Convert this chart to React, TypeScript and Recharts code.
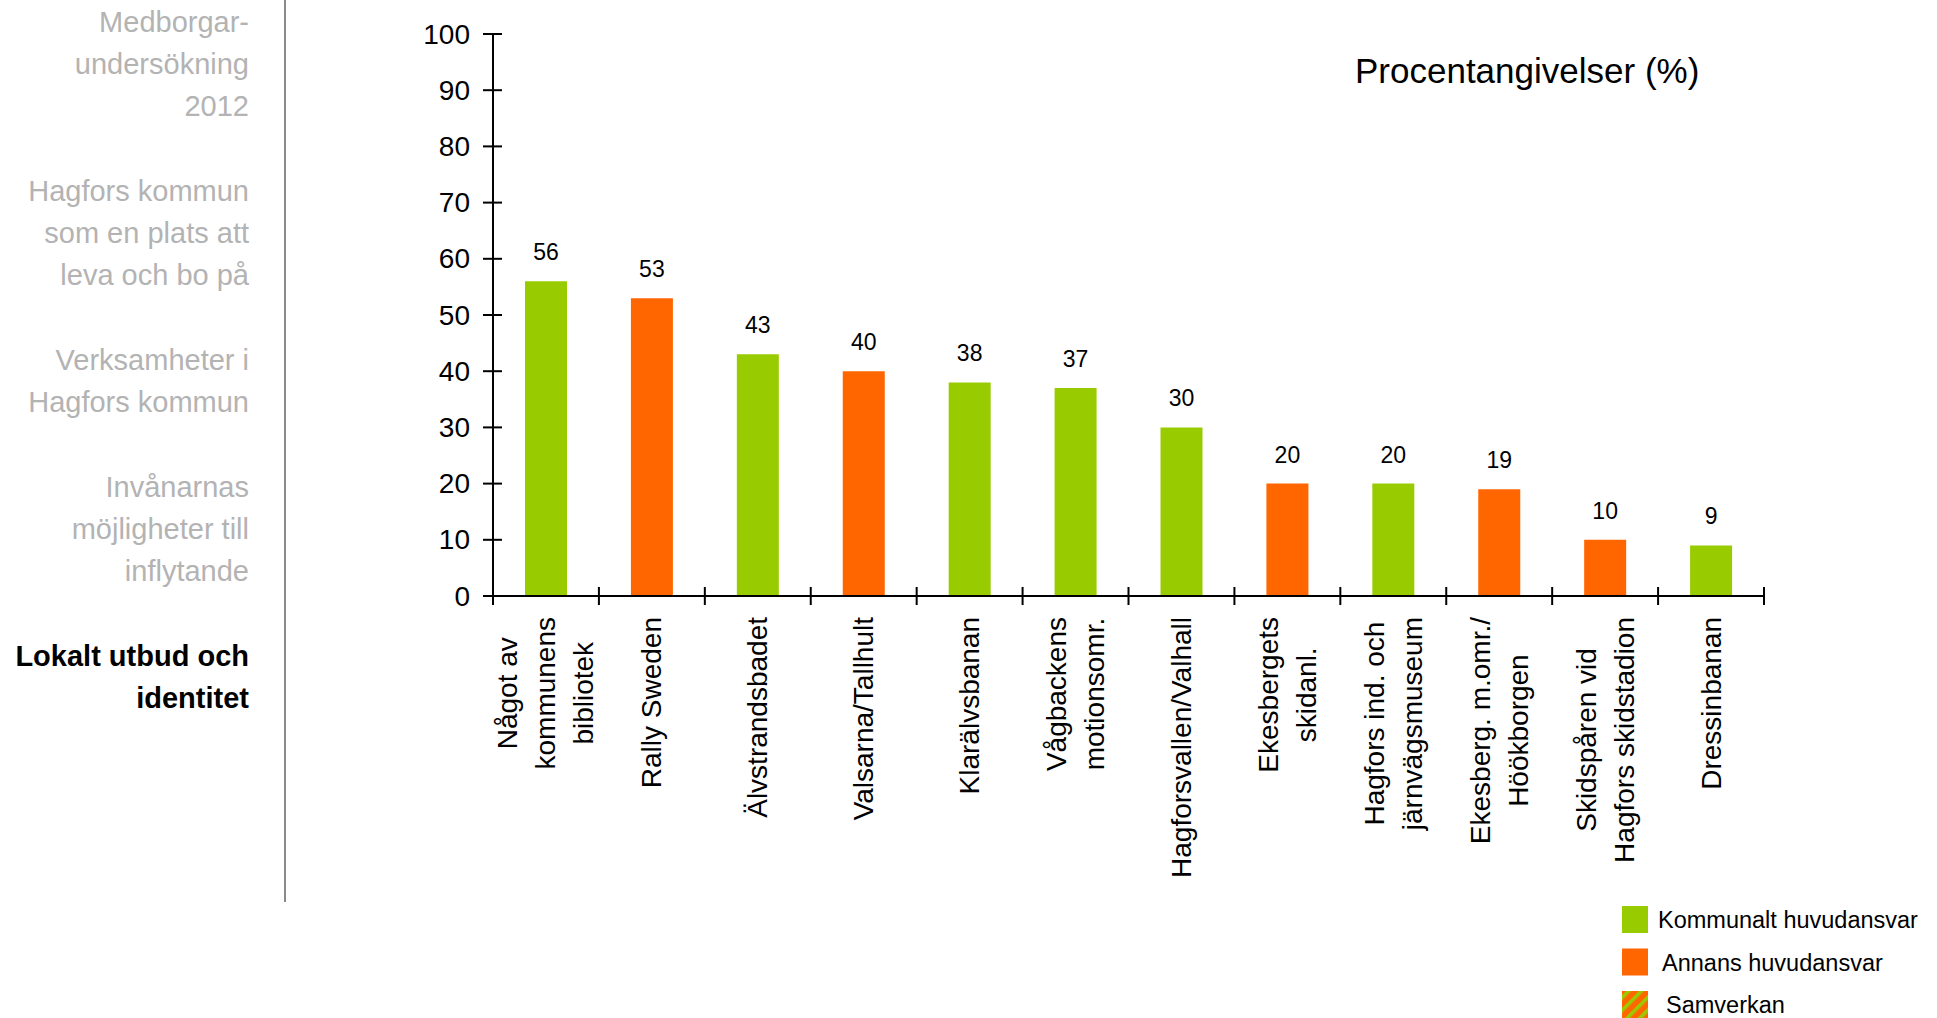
import { BarChart, Bar, XAxis, YAxis, Cell, LabelList } from "recharts"

// categories (line breaks as in the original axis labels)
const categories = [
  "Något av\nkommunens\nbibliotek",
  "Rally Sweden",
  "Älvstrandsbadet",
  "Valsarna/Tallhult",
  "Klarälvsbanan",
  "Vågbackens\nmotionsomr.",
  "Hagforsvallen/Valhall",
  "Ekesbergets\nskidanl.",
  "Hagfors ind. och\njärnvägsmuseum",
  "Ekesberg. m.omr./\nHöökborgen",
  "Skidspåren vid\nHagfors skidstadion",
  "Dressinbanan",
]
const percentages = [56, 53, 43, 40, 38, 37, 30, 20, 20, 19, 10, 9]
// who is responsible: "k" = kommunalt, "a" = annans
const owners = ["k", "a", "k", "a", "k", "k", "k", "a", "k", "a", "a", "k"]
const yTicks = [0, 10, 20, 30, 40, 50, 60, 70, 80, 90, 100]

const legendItems = [
  { key: "k", label: "Kommunalt huvudansvar" },
  { key: "a", label: "Annans huvudansvar" },
  { key: "s", label: "Samverkan" },
]

const sidebar = [
  { lines: ["Medborgar-", "undersökning", "2012"], active: false },
  { lines: ["Hagfors kommun", "som en plats att", "leva och bo på"], active: false },
  { lines: ["Verksamheter i", "Hagfors kommun"], active: false },
  { lines: ["Invånarnas", "möjligheter till", "inflytande"], active: false },
  { lines: ["Lokalt utbud och", "identitet"], active: true },
]
const sidebarTops = [1, 170, 339, 466, 635]

const title = "Procentangivelser (%)"

const GREEN = "#99CC00"
const ORANGE = "#FF6600"
const colorOf = { k: GREEN, a: ORANGE }
const FONT = '"Liberation Sans", Arial, Helvetica, sans-serif'

const data = categories.map((name, i) => ({ name, value: percentages[i], owner: owners[i] }))

const W = 1937
const H = 1018
const margin = { top: 34, right: 173, bottom: 392, left: 413 }
const Y_AXIS_W = 80
const BAND = (W - margin.left - Y_AXIS_W - margin.right) / categories.length

let ctx: CanvasRenderingContext2D | null = null
function textWidth(s: string, font: string) {
  if (!ctx) ctx = document.createElement("canvas").getContext("2d")
  if (!ctx) return s.length * 14
  ctx.font = font
  return ctx.measureText(s).width
}

function XTick(props: any) {
  const { x, y, payload, index } = props
  const lines = String(payload.value).split("\n")
  const maxW = Math.max(...lines.map((l) => textWidth(l, `28px ${FONT}`)))
  const cy = y + 21 + maxW / 2
  return (
    <g>
      <line x1={x - BAND / 2} x2={x - BAND / 2} y1={y - 9} y2={y + 9} stroke="#000" strokeWidth={2} />
      {index === categories.length - 1 && (
        <line x1={x + BAND / 2} x2={x + BAND / 2} y1={y - 9} y2={y + 9} stroke="#000" strokeWidth={2} />
      )}
      {lines.map((l, i) => (
        <text
          key={i}
          transform={`translate(${x + (i - (lines.length - 1) / 2) * 38}, ${cy}) rotate(-90)`}
          textAnchor="middle"
          dominantBaseline="central"
          fontSize={28}
          fontFamily={FONT}
          fill="#000"
        >
          {l}
        </text>
      ))}
    </g>
  )
}

function YTick(props: any) {
  const { x, y, payload } = props
  return (
    <g>
      <line x1={x - 10} x2={x + 9} y1={y} y2={y} stroke="#000" strokeWidth={2} />
      <text x={x - 23} y={y} textAnchor="end" dominantBaseline="central" fontSize={28} fontFamily={FONT} fill="#000">
        {payload.value}
      </text>
    </g>
  )
}

export default function App() {
  return (
    <div style={{ position: "absolute", left: 0, top: 0, width: W, height: H, background: "#fff", fontFamily: FONT }}>
      {sidebar.map((s, i) => (
        <div
          key={i}
          style={{
            position: "absolute",
            left: 0,
            width: 249,
            top: sidebarTops[i],
            textAlign: "right",
            fontSize: 29,
            lineHeight: "42px",
            color: s.active ? "#000" : "#b3b3b3",
            fontWeight: s.active ? "bold" : "normal",
          }}
        >
          {s.lines.map((l, j) => (
            <div key={j}>{l}</div>
          ))}
        </div>
      ))}
      <div style={{ position: "absolute", left: 284, top: 0, width: 2, height: 902, background: "#8a8a8a" }} />

      <div style={{ position: "absolute", left: 1355, top: 51, fontSize: 35, lineHeight: "40px", color: "#000" }}>
        {title}
      </div>

      <div style={{ position: "absolute", left: 0, top: 0 }}>
        <BarChart width={W} height={H} data={data} margin={margin} barSize={42}>
          <XAxis
            dataKey="name"
            interval={0}
            height={30}
            tickSize={0}
            tickMargin={0}
            tickLine={false}
            axisLine={{ stroke: "#000", strokeWidth: 2 }}
            tick={<XTick />}
          />
          <YAxis
            domain={[0, 100]}
            ticks={yTicks}
            width={Y_AXIS_W}
            tickSize={0}
            tickMargin={0}
            tickLine={false}
            axisLine={{ stroke: "#000", strokeWidth: 2 }}
            tick={<YTick />}
          />
          <Bar dataKey="value" isAnimationActive={false}>
            {data.map((d, i) => (
              <Cell key={i} fill={colorOf[d.owner as "k" | "a"]} />
            ))}
            <LabelList dataKey="value" position="top" offset={21} fontSize={23} fontFamily={FONT} fill="#000" />
          </Bar>
        </BarChart>
      </div>

      <svg style={{ position: "absolute", left: 1600, top: 890 }} width={337} height={128}>
        <defs>
          <pattern id="samverkan" width={9} height={9} patternUnits="userSpaceOnUse" patternTransform="rotate(45)">
            <rect width={9} height={9} fill={ORANGE} />
            <rect width={3.5} height={9} fill={GREEN} />
          </pattern>
        </defs>
        {legendItems.map((it, i) => {
          const top = 16 + i * 42.5
          const fill = it.key === "s" ? "url(#samverkan)" : colorOf[it.key as "k" | "a"]
          return (
            <g key={it.key}>
              <rect x={22} y={top} width={26} height={27} fill={fill} />
              <text x={58 + i * 4} y={top + 14} dominantBaseline="central" fontSize={23.5} fontFamily={FONT} fill="#000">
                {it.label}
              </text>
            </g>
          )
        })}
      </svg>
    </div>
  )
}
